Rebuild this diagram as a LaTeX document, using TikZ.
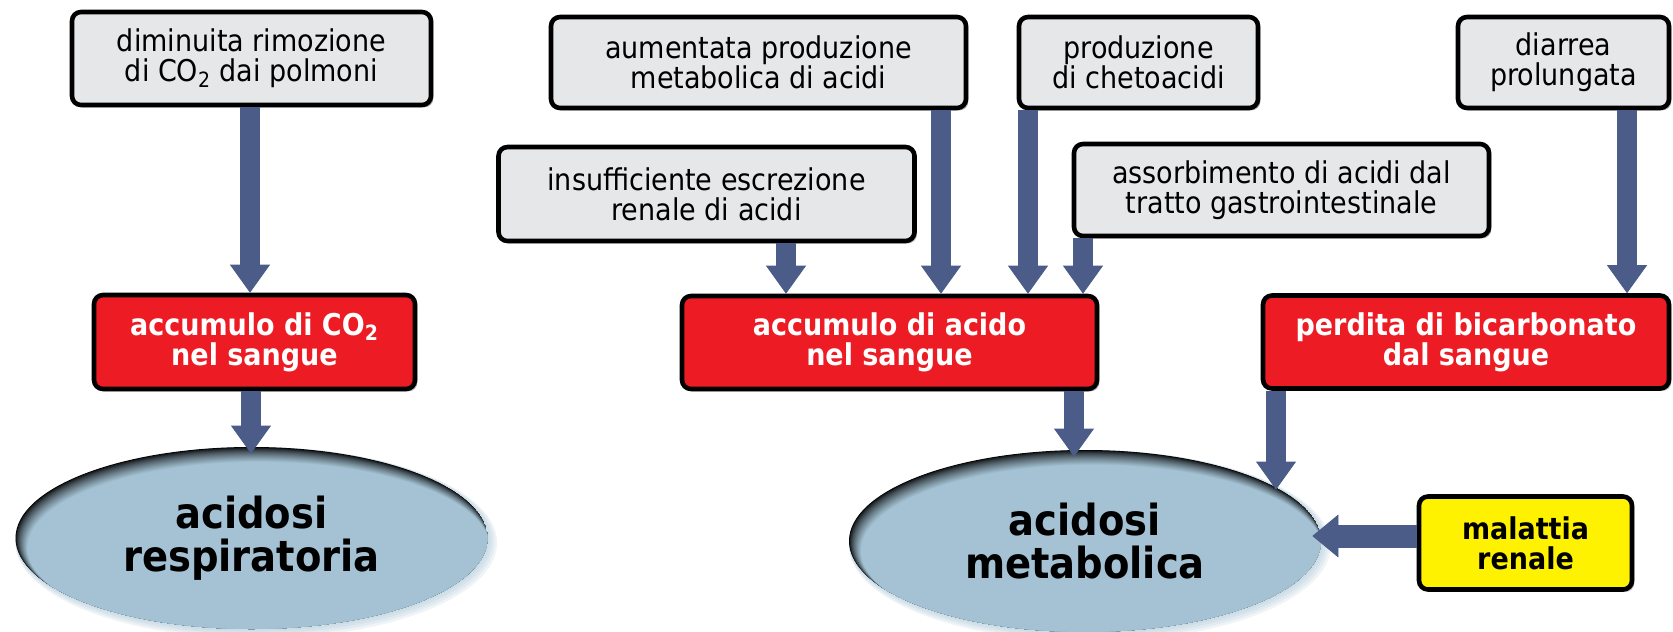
\documentclass[tikz,border=0pt]{standalone}
\usepackage{fontspec}
\setmainfont{DejaVu Sans Condensed}
\usetikzlibrary{arrows.meta,shadows,calc,shapes.geometric}
\definecolor{boxgray}{HTML}{E6E7E8}
\definecolor{boxred}{HTML}{ED1C24}
\definecolor{boxyellow}{HTML}{FFF200}
\definecolor{arrowblue}{HTML}{4A5C87}
\definecolor{ellblue}{HTML}{A4C2D3}
\tikzset{
  box/.style={draw=black, line width=2.3pt, rounded corners=4.5pt, align=center, inner sep=0pt,
    font=\fontsize{15}{15}\selectfont,
    drop shadow={shadow xshift=1.2pt, shadow yshift=-1.2pt, fill=black, opacity=0.3}},
  gbox/.style={box, fill=boxgray},
  rbox/.style={box, fill=boxred, text=white, font=\bfseries\fontsize{15}{15}\selectfont},
  ybox/.style={box, fill=boxyellow, font=\bfseries\fontsize{15}{15}\selectfont},
  blk/.style={draw=arrowblue, line width=10pt, -{Triangle[width=20pt,length=14pt,line width=0.4pt]}},
  hblk/.style={draw=arrowblue, line width=11.5pt, -{Triangle[width=21.5pt,length=13pt,line width=0.4pt]}},
  elltext/.style={ellipse, inner sep=0pt, minimum width=236pt, minimum height=91pt, align=center,
    font=\bfseries\fontsize{21.4}{21.5}\selectfont}
}
\newcommand{\shadedell}[1]{%
  \foreach \g in {4,...,1}{
    \fill[ellblue, opacity=0.18] ($(#1)+(\g*0.6pt,-\g*0.6pt)$) ellipse [x radius=118pt+\g*0.6pt, y radius=45.5pt+\g*0.6pt];
  }
  \begin{scope}
    \clip (#1) ellipse [x radius=118pt, y radius=45.5pt];
    \foreach \i in {0,...,24}{
      \pgfmathsetmacro\pc{100*(\i/24)^0.7}
      \fill[ellblue!\pc!black] ($(#1)+(\i*0.15pt,-\i*0.21pt)$) ellipse [x radius=118pt-\i*0.1pt, y radius=45.5pt-\i*0.1pt];
    }
  \end{scope}%
}
\begin{document}
\begin{tikzpicture}[x=0.5pt,y=-0.5pt]
\useasboundingbox (0,0) rectangle (1673,631);

% ellipses (shading)
\coordinate (cR) at (251.5,538);
\coordinate (cM) at (1085,541);
\shadedell{cR}
\shadedell{cM}
\node[elltext] (ellR) at (cR) {acidosi\\respiratoria};
\node[elltext] (ellM) at (cM) {acidosi\\metabolica};

% top boxes
\node[gbox, minimum width=179.5pt, minimum height=46.5pt] (dim) at (251.5,58.5)
  {diminuita rimozione\\di CO\textsubscript{2} dai polmoni};
\node[gbox, minimum width=207.5pt, minimum height=45.5pt] (aum) at (758.5,62.5)
  {aumentata produzione\\metabolica di acidi};
\node[gbox, minimum width=119.5pt, minimum height=45.5pt] (prod) at (1138.5,62.5)
  {produzione\\di chetoacidi};
\node[gbox, minimum width=105.5pt, minimum height=45.5pt] (diarr) at (1563.5,62.5)
  {diarrea\\prolungata};
\node[gbox, minimum width=208pt, minimum height=47pt] (insuff) at (706.5,194)
  {insufficiente escrezione\\renale di acidi};
\node[gbox, minimum width=207.5pt, minimum height=46pt] (assorb) at (1281.5,190)
  {assorbimento di acidi dal\\tratto gastrointestinale};

% red boxes
\node[rbox, minimum width=160.5pt, minimum height=47pt] (co2) at (254.5,342)
  {accumulo di CO\textsubscript{2}\\nel sangue};
\node[rbox, minimum width=207.5pt, minimum height=46.5pt] (acido) at (889.5,342.5)
  {accumulo di acido\\nel sangue};
\node[rbox, minimum width=203pt, minimum height=46.5pt] (perd) at (1466,342)
  {perdita di bicarbonato\\dal sangue};

% yellow box
\node[ybox, minimum width=106.5pt, minimum height=46.5pt] (ren) at (1525.5,543)
  {malattia\\renale};

% arrows
\draw[blk] ([xshift=-0.75pt]dim.south) -- ([xshift=-2.25pt]co2.north);
\draw[blk] ([xshift=-1.75pt]co2.south) -- ([xshift=-0.25pt,yshift=-3.5pt]ellR.north);
\draw[blk] ([xshift=39.75pt]insuff.south) -- ([xshift=-51.75pt]acido.north);
\draw[blk] ([xshift=91.25pt]aum.south) -- ([xshift=25.75pt]acido.north);
\draw[blk] ([xshift=-55.25pt]prod.south) -- ([xshift=69.25pt]acido.north);
\draw[blk] ([xshift=-99.25pt]assorb.south) -- ([xshift=96.75pt]acido.north);
\draw[blk] ([xshift=31.75pt]diarr.south) -- ([xshift=80.5pt]perd.north);
\draw[blk] ([xshift=92.25pt]acido.south) -- ([xshift=-5.5pt,yshift=-3.5pt]ellM.north);
\draw[blk] ([xshift=-95pt]perd.south) -- ([xshift=95.5pt,yshift=-20pt]ellM.north);
\draw[hblk] ([yshift=3.5pt]ren.west) -- ([xshift=-4.5pt,yshift=2.5pt]ellM.east);
\end{tikzpicture}
\end{document}
